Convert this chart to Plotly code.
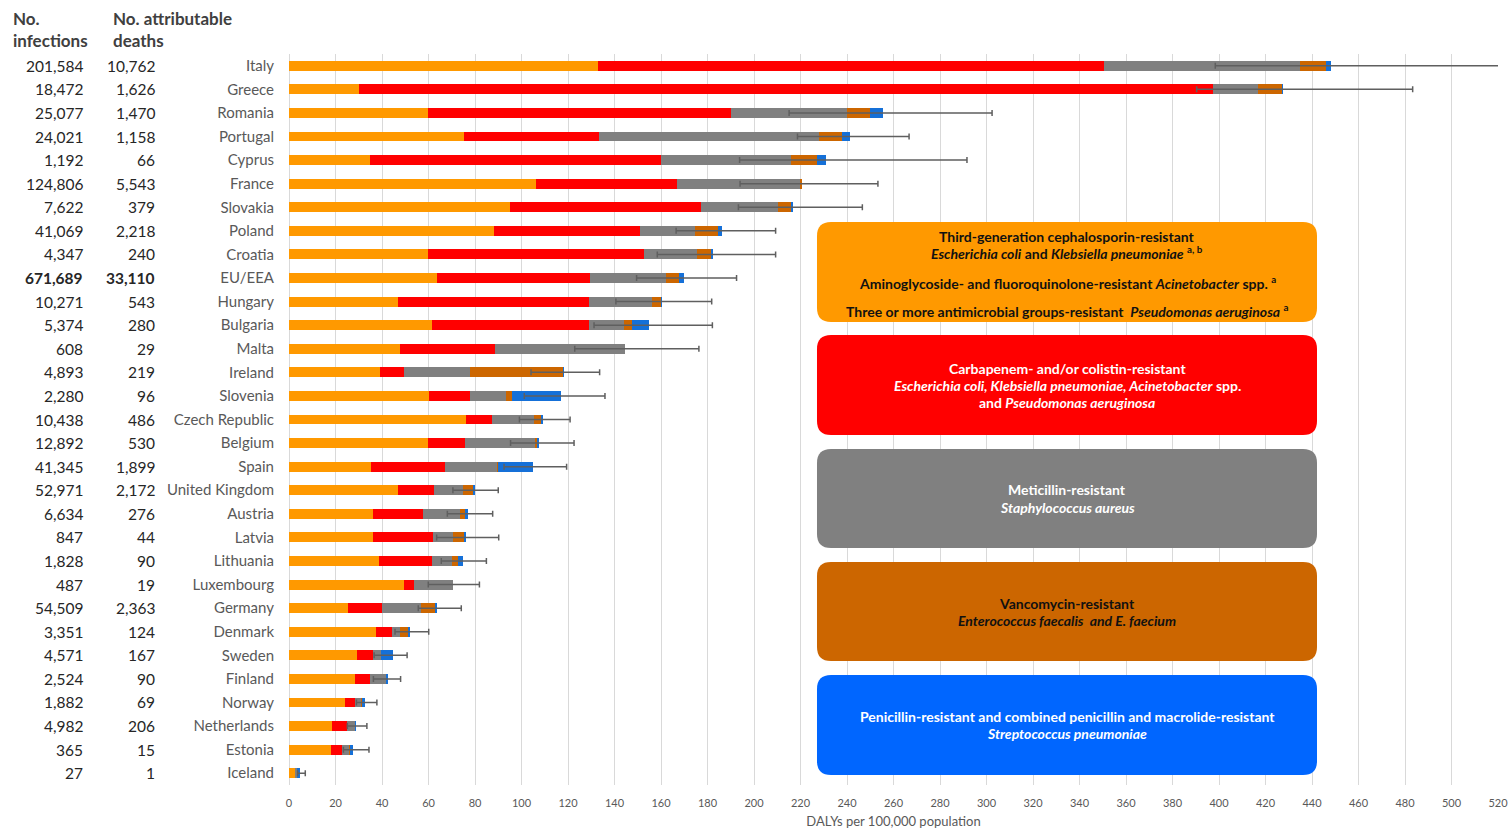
import plotly.graph_objects as go

countries = ["Italy", "Greece", "Romania", "Portugal", "Cyprus", "France", "Slovakia", "Poland",
             "Croatia", "EU/EEA", "Hungary", "Bulgaria", "Malta", "Ireland", "Slovenia",
             "Czech Republic", "Belgium", "Spain", "United Kingdom", "Austria", "Latvia",
             "Lithuania", "Luxembourg", "Germany", "Denmark", "Sweden", "Finland", "Norway",
             "Netherlands", "Estonia", "Iceland"]

infections = ["201,584", "18,472", "25,077", "24,021", "1,192", "124,806", "7,622", "41,069",
              "4,347", "671,689", "10,271", "5,374", "608", "4,893", "2,280", "10,438", "12,892",
              "41,345", "52,971", "6,634", "847", "1,828", "487", "54,509", "3,351", "4,571",
              "2,524", "1,882", "4,982", "365", "27"]

deaths = ["10,762", "1,626", "1,470", "1,158", "66", "5,543", "379", "2,218", "240", "33,110",
          "543", "280", "29", "219", "96", "486", "530", "1,899", "2,172", "276", "44", "90",
          "19", "2,363", "124", "167", "90", "69", "206", "15", "1"]

# DALYs per 100,000 population by pathogen group
third_gen = [133.0, 30.1, 59.6, 75.4, 34.8, 106.1, 94.9, 88.2, 59.6, 63.7, 46.7, 61.4, 47.6, 39.3,
             60.1, 76.0, 59.8, 35.4, 46.7, 36.0, 36.0, 38.9, 49.3, 25.4, 37.3, 29.1, 28.5, 23.9,
             18.4, 18.1, 2.9]
carbapenem = [217.4, 367.2, 130.5, 57.9, 125.1, 60.6, 82.2, 62.8, 93.1, 65.8, 82.3, 67.6, 41.0,
              10.2, 17.7, 11.5, 15.8, 31.7, 15.5, 21.8, 25.9, 22.7, 4.5, 14.6, 7.0, 7.0, 6.5, 4.5,
              6.5, 4.7, 0.1]
mrsa = [84.5, 19.4, 49.9, 94.7, 56.1, 53.1, 33.1, 23.5, 22.6, 32.7, 27.1, 15.1, 56.1, 28.3, 15.5,
        18.0, 30.6, 22.4, 12.8, 15.9, 8.6, 8.4, 16.9, 16.8, 3.4, 3.5, 7.0, 2.6, 3.5, 3.4, 0.3]
vre = [11.3, 10.4, 10.0, 10.0, 11.1, 0.9, 5.7, 10.0, 6.6, 5.5, 3.9, 3.4, 0.0, 40.2, 2.5, 3.3, 0.6,
       0.5, 4.4, 2.0, 4.6, 2.8, 0.0, 6.0, 3.5, 0.1, 0.0, 0.3, 0.3, 0.2, 0.0]
pneumo = [2.0, 0.3, 5.3, 3.5, 3.8, 0.0, 1.0, 1.8, 0.6, 2.3, 0.4, 7.3, 0.0, 0.2, 21.2, 0.2, 0.6,
          15.1, 0.3, 1.4, 1.0, 2.0, 0.0, 1.0, 0.8, 5.0, 0.2, 1.4, 0.1, 1.0, 1.6]

ui_low = [398.4, 390.4, 215.1, 218.7, 193.8, 194.0, 193.3, 166.5, 158.4, 149.5, 140.6, 131.2,
          122.9, 104.1, 101.2, 99.1, 95.3, 92.5, 70.5, 68.1, 63.5, 65.5, 59.9, 55.6, 45.6, 36.6,
          36.3, 29.0, 25.1, 23.4, 3.7]
ui_high = [521.0, 483.3, 302.4, 266.7, 291.6, 253.3, 246.6, 209.3, 209.3, 192.5, 181.8, 182.1,
           176.3, 133.6, 135.9, 120.9, 122.6, 119.4, 90.0, 87.6, 90.2, 84.9, 81.9, 74.1, 60.1,
           50.8, 48.0, 37.8, 33.5, 34.4, 7.0]

x_ticks = list(range(0, 521, 20))

series = [
    ("Third-generation cephalosporin-resistant", third_gen, "#FF9900"),
    ("Carbapenem- and/or colistin-resistant", carbapenem, "#FF0000"),
    ("Meticillin-resistant", mrsa, "#808080"),
    ("Vancomycin-resistant", vre, "#CC6600"),
    ("Penicillin-resistant", pneumo, "#1570D8"),
]

FONT = "Lato"
W, H = 1510, 829
L, R, T, B = 289, 12, 54, 44
PW, PH = W - L - R, H - T - B

fig = go.Figure()
for name, vals, col in series:
    fig.add_trace(go.Bar(y=countries, x=vals, orientation="h", name=name,
                         marker=dict(color=col, line=dict(width=0)), showlegend=False))

totals = [a + b + c + d + e for a, b, c, d, e in zip(third_gen, carbapenem, mrsa, vre, pneumo)]
fig.add_trace(go.Scatter(
    x=totals, y=countries, mode="markers", marker=dict(size=1, opacity=0), showlegend=False,
    error_x=dict(type="data", symmetric=False,
                 array=[h - t for h, t in zip(ui_high, totals)],
                 arrayminus=[t - l for t, l in zip(totals, ui_low)],
                 color="#5f5f5f", thickness=1.5, width=3)))


def px(xp):
    return (xp - L) / PW


def py(yp):
    return (T + PH - yp) / PH


def rounded(x0, y0, x1, y1, r):
    pts = [
        ("M", x0 + r, y0), ("L", x1 - r, y0), ("Q", x1, y0, x1, y0 + r),
        ("L", x1, y1 - r), ("Q", x1, y1, x1 - r, y1), ("L", x0 + r, y1),
        ("Q", x0, y1, x0, y1 - r), ("L", x0, y0 + r), ("Q", x0, y0, x0 + r, y0)]
    s = ""
    for p in pts:
        cmd = p[0]
        coords = p[1:]
        parts = []
        for i in range(0, len(coords), 2):
            parts.append(f"{px(coords[i]):.5f},{py(coords[i+1]):.5f}")
        s += cmd + " " + " ".join(parts) + " "
    return s + "Z"


boxes = [
    (222, 322, "#FF9900"),
    (335, 435, "#FF0000"),
    (449, 548, "#808080"),
    (562, 661, "#CC6600"),
    (675, 775, "#0066FF"),
]
shapes = []
for y0, y1, col in boxes:
    shapes.append(dict(type="path", xref="paper", yref="paper", path=rounded(817, y0, 1317, y1, 14),
                       fillcolor=col, line=dict(width=0), layer="above"))

legend_lines = [
    (237, "<b>Third-generation cephalosporin-resistant</b>", "#111111"),
    (253, "<b><i>Escherichia coli</i> and <i>Klebsiella pneumoniae</i> <sup>a, b</sup></b>", "#111111"),
    (282, "<b>Aminoglycoside- and fluoroquinolone-resistant <i>Acinetobacter</i> spp. <sup>a</sup></b>", "#111111"),
    (310, "<b>Three or more antimicrobial groups-resistant  <i>Pseudomonas aeruginosa</i> <sup>a</sup></b>", "#111111"),
    (368, "<b>Carbapenem- and/or colistin-resistant</b>", "white"),
    (385, "<b><i>Escherichia coli, Klebsiella pneumoniae, Acinetobacter</i> spp.</b>", "white"),
    (402, "<b>and <i>Pseudomonas aeruginosa</i></b>", "white"),
    (490, "<b>Meticillin-resistant</b>", "white"),
    (507, "<b><i>Staphylococcus aureus</i></b>", "white"),
    (603, "<b>Vancomycin-resistant</b>", "#111111"),
    (620, "<b><i>Enterococcus faecalis  and E. faecium</i></b>", "#111111"),
    (716, "<b>Penicillin-resistant and combined penicillin and macrolide-resistant</b>", "white"),
    (733, "<b><i>Streptococcus pneumoniae</i></b>", "white"),
]
annotations = []
for yy, txt, col in legend_lines:
    annotations.append(dict(xref="paper", yref="paper", x=px(1067), y=py(yy), text=txt,
                            showarrow=False, xanchor="center", yanchor="middle",
                            font=dict(family=FONT, size=14, color=col)))

# column headers
for xx, l1, l2 in [(11, "No.", "infections"), (111, "No. attributable", "deaths")]:
    for yy, t in [(18, l1), (40, l2)]:
        annotations.append(dict(xref="paper", yref="paper", x=px(xx), y=py(yy), text=f"<b>{t}</b>",
                                showarrow=False, xanchor="left", yanchor="middle",
                                font=dict(family=FONT, size=17, color="#404040")))

for c, inf, dth in zip(countries, infections, deaths):
    bold = c == "EU/EEA"
    for xx, t in [(85, inf), (157, dth)]:
        annotations.append(dict(xref="paper", yref="y", x=px(xx), y=c,
                                text=f"<b>{t}</b>" if bold else t,
                                showarrow=False, xanchor="right", yanchor="middle",
                                font=dict(family=FONT, size=15.5, color="#262626")))

fig.update_layout(
    width=W, height=H, barmode="stack", bargap=0.58,
    margin=dict(l=L, r=R, t=T, b=B, autoexpand=False),
    paper_bgcolor="white", plot_bgcolor="white",
    font=dict(family=FONT, color="#595959"),
    shapes=shapes, annotations=annotations,
    xaxis=dict(range=[0, 520], tickvals=x_ticks, showgrid=True, gridcolor="#d9d9d9", gridwidth=1,
               zeroline=True, zerolinecolor="#d9d9d9", zerolinewidth=1, showline=False,
               automargin=False,
               tickfont=dict(family=FONT, size=11, color="#595959"), ticklabelstandoff=10,
               title=dict(text="DALYs per 100,000 population", standoff=10,
                          font=dict(family=FONT, size=13, color="#595959"))),
    yaxis=dict(categoryorder="array", categoryarray=countries, range=[30.5, -0.5],
               autorange=False, automargin=False, showgrid=False, zeroline=False, showline=False,
               ticks="", tickfont=dict(family=FONT, size=15, color="#595959"),
               ticklabelstandoff=14),
)

fig.write_html("out.html", config={"displayModeBar": False},
               post_script="document.body.style.margin='0';document.body.style.overflow='hidden';")
